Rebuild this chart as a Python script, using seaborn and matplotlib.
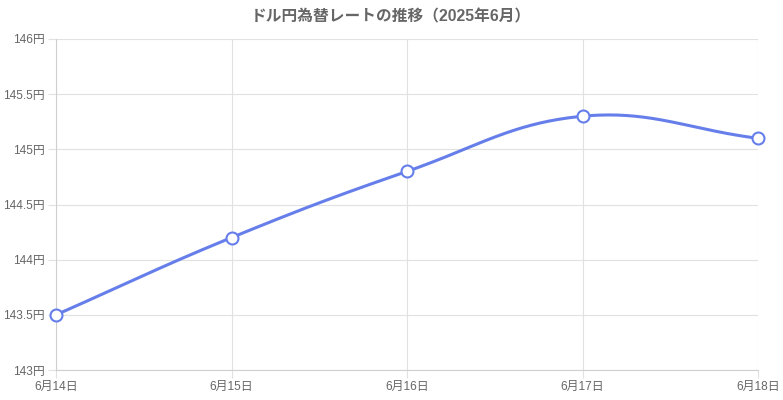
import numpy as np
import pandas as pd
import matplotlib
matplotlib.use("Agg")
import matplotlib.pyplot as plt
import seaborn as sns

dates = ["6月14日", "6月15日", "6月16日", "6月17日", "6月18日"]
rates = [143.5, 144.2, 144.8, 145.3, 145.1]
y_ticks = [143, 143.5, 144, 144.5, 145, 145.5, 146]
title = "ドル円為替レートの推移（2025年6月）"

sns.set_theme(style="white")
plt.rcParams['font.family'] = ['Liberation Sans', 'Noto Sans CJK JP', 'DejaVu Sans']

W, H = 783, 400
fig = plt.figure(figsize=(W / 100, H / 100), dpi=100)
L, R, T, B = 56, 758, 39, 370
ax = fig.add_axes([L / W, 1 - B / H, (R - L) / W, (B - T) / H])

ymin, ymax = 143, 146
xs = np.arange(len(dates), dtype=float)
ys = np.array(rates, dtype=float)

# Chart.js style bezier smoothing (tension 0.4), computed in pixel space
px_x = (R - L) / (len(dates) - 1)
px_y = (B - T) / (ymax - ymin)
P = np.column_stack([xs * px_x, ys * px_y])
t = 0.4
n = len(P)
cp_prev = P.copy()
cp_next = P.copy()
for i in range(n):
    prev = P[i - 1] if i > 0 else P[i]
    nxt = P[i + 1] if i < n - 1 else P[i]
    d01 = np.hypot(*(P[i] - prev))
    d12 = np.hypot(*(nxt - P[i]))
    tot = d01 + d12
    s01 = d01 / tot if tot else 0
    s12 = d12 / tot if tot else 0
    cp_prev[i] = P[i] - t * s01 * (nxt - prev)
    cp_next[i] = P[i] + t * s12 * (nxt - prev)
curve = []
u = np.linspace(0, 1, 60)[:, None]
for i in range(n - 1):
    p0, p1, p2, p3 = P[i], cp_next[i], cp_prev[i + 1], P[i + 1]
    seg = (1 - u) ** 3 * p0 + 3 * (1 - u) ** 2 * u * p1 + 3 * (1 - u) * u ** 2 * p2 + u ** 3 * p3
    curve.append(seg if i == 0 else seg[1:])
curve = np.vstack(curve)
cdf = pd.DataFrame({"x": curve[:, 0] / px_x, "y": curve[:, 1] / px_y})

color = "#667eea"
sns.lineplot(data=cdf, x="x", y="y", sort=False, ax=ax, color=color, linewidth=2.2, zorder=3)
pdf = pd.DataFrame({"x": xs, "y": ys})
ax.plot(pdf["x"], pdf["y"], linestyle="none", marker="o", markersize=8.6,
        markerfacecolor="white", markeredgecolor=color, markeredgewidth=1.5, zorder=4, clip_on=False)

ax.set_xlim(0, len(dates) - 1)
ax.set_ylim(ymin, ymax)
ax.set_xticks(xs)
ax.set_xticklabels(dates)
ax.set_yticks(y_ticks)
ax.set_yticklabels([f"{v:g}円" for v in y_ticks])
ax.set_xlabel("")
ax.set_ylabel("")

grid_c = "#e1e1e1"
ax.grid(True, color=grid_c, linewidth=0.8)
ax.set_axisbelow(True)
for s in ["top", "right"]:
    ax.spines[s].set_visible(False)
for s in ["left", "bottom"]:
    ax.spines[s].set_color("#cfcfcf")
    ax.spines[s].set_linewidth(0.8)
ax.tick_params(axis="both", which="both", length=6, width=0.8, color=grid_c,
               labelsize=8.6, labelcolor="#666666", pad=2, left=True, bottom=True)

fig.text(391 / W, 1 - 17 / H, title, ha="center", va="center",
         fontsize=11.3, fontweight="bold", color="#666666")

fig.savefig("out.png", dpi=100, facecolor="white")
